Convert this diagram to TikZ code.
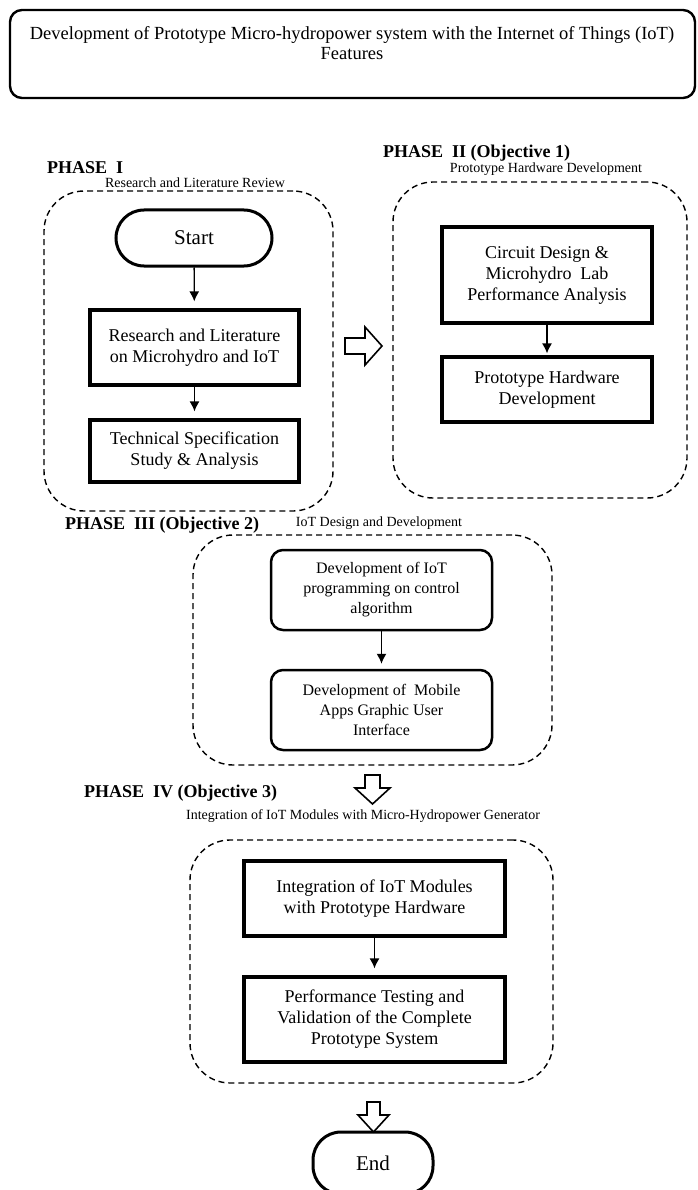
\documentclass[tikz,border=0pt]{standalone}
\usepackage{fontspec}
\setmainfont{Liberation Serif}
\usetikzlibrary{arrows.meta}

\tikzstyle{task}=[draw=black,line width=3.2pt,align=center,inner sep=0pt,font=\fontsize{18}{21}\selectfont]
\tikzstyle{softtask}=[task,line width=2.5pt,rounded corners=12pt,font=\fontsize{16}{20}\selectfont]
\tikzstyle{terminal}=[draw=black,line width=3pt,rounded corners=28pt,font=\fontsize{21}{24}\selectfont]
\tikzstyle{phasebox}=[draw=black,line width=1.4pt,dash pattern=on 6pt off 4pt,rounded corners=40pt]
\tikzstyle{phase}=[anchor=west,inner sep=0pt,font=\bfseries\fontsize{18}{20}\selectfont]
\tikzstyle{aim}=[inner sep=0pt,font=\fontsize{14}{16}\selectfont]
\tikzstyle{hollow}=[draw=black,line width=1.6pt,fill=white,line join=miter]
\tikzstyle{flow}=[->,line width=1.3pt,shorten >=7pt]
\tikzset{>={Latex[length=10pt,width=10pt]}}

\begin{document}
\begin{tikzpicture}[x=1pt,y=-1pt]
  \useasboundingbox (0,0) rectangle (697,1190);
  % Title
  \node[draw=black,line width=2.4pt,rounded corners=12pt,minimum width=685,minimum height=88] (title) at (352.5,54) {};
  \node[align=center,font=\fontsize{18.5}{20}\selectfont] (titletext) at (352,43) {Development of Prototype Micro-hydropower system with the Internet of Things (IoT)\\Features};

  % Phase I
  \node[phase] (p1) at (47,168) {PHASE\ \ I};
  \node[aim] (p1aim) at (195,183) {Research and Literature Review};
  \node[phasebox,minimum width=289,minimum height=320] (ph1) at (188.5,351) {};
  \node[terminal,minimum width=156,minimum height=56] (start) at (194,238) {Start};
  \node[task,minimum width=209,minimum height=75] (litrev) at (194.5,347.5) {Research and Literature\\on Microhydro and IoT};
  \node[task,minimum width=209,minimum height=62] (techspec) at (194.5,451) {Technical Specification\\Study \& Analysis};
  \draw[flow] (start) -- (litrev);
  \draw[flow] (litrev) -- (techspec);

  % Phase II
  \node[phase] (p2) at (383,153) {PHASE\ \ II (Objective 1)};
  \node[aim] (p2aim) at (546,169) {Prototype Hardware Development};
  \node[phasebox,minimum width=294,minimum height=316] (ph2) at (540,340) {};
  \node[task,minimum width=210,minimum height=96] (circuit) at (547,275) {Circuit Design \&\\Microhydro\ \ Lab\\Performance Analysis};
  \node[task,minimum width=210,minimum height=65] (hwdev) at (547,389.5) {Prototype Hardware\\Development};
  \draw[flow,shorten >=2pt] (circuit) -- (hwdev);
  \draw[hollow] (345,338) -- (365,338) -- (365,327) -- (382,346) -- (365,365) -- (365,354) -- (345,354) -- cycle;

  % Phase III
  \node[phase] (p3) at (65,525) {PHASE\ \ III (Objective 2)};
  \node[aim] (p3aim) at (379,523) {IoT Design and Development};
  \node[phasebox,minimum width=359,minimum height=230] (ph3) at (372.5,650) {};
  \node[softtask,minimum width=221,minimum height=80] (iotprog) at (381.5,590) {Development of IoT\\programming on control\\algorithm};
  \node[softtask,minimum width=221,minimum height=80] (appgui) at (381.5,710) {Development of\ \ Mobile\\Apps Graphic User\\Interface};
  \draw[flow,shorten >=5pt] (iotprog) -- (appgui);
  \draw[hollow] (365,775) -- (380,775) -- (380,788) -- (390,788) -- (372.5,804) -- (355,788) -- (365,788) -- cycle;

  % Phase IV
  \node[phase] (p4) at (84,793) {PHASE\ \ IV (Objective 3)};
  \node[aim] (p4aim) at (363,816) {Integration of IoT Modules with Micro-Hydropower Generator};
  \node[phasebox,minimum width=363,minimum height=243] (ph4) at (371.5,961.5) {};
  \node[task,minimum width=261,minimum height=75] (integ) at (374.5,898.5) {Integration of IoT Modules\\with Prototype Hardware};
  \node[task,minimum width=261,minimum height=85] (testing) at (374.5,1019.5) {Performance Testing and\\Validation of the Complete\\Prototype System};
  \draw[flow] (integ) -- (testing);
  \draw[hollow] (367,1102) -- (380,1102) -- (380,1115) -- (389,1115) -- (373.5,1132) -- (358,1115) -- (367,1115) -- cycle;
  \node[terminal,minimum width=120,minimum height=62] (fin) at (373,1163) {End};
\end{tikzpicture}
\end{document}
